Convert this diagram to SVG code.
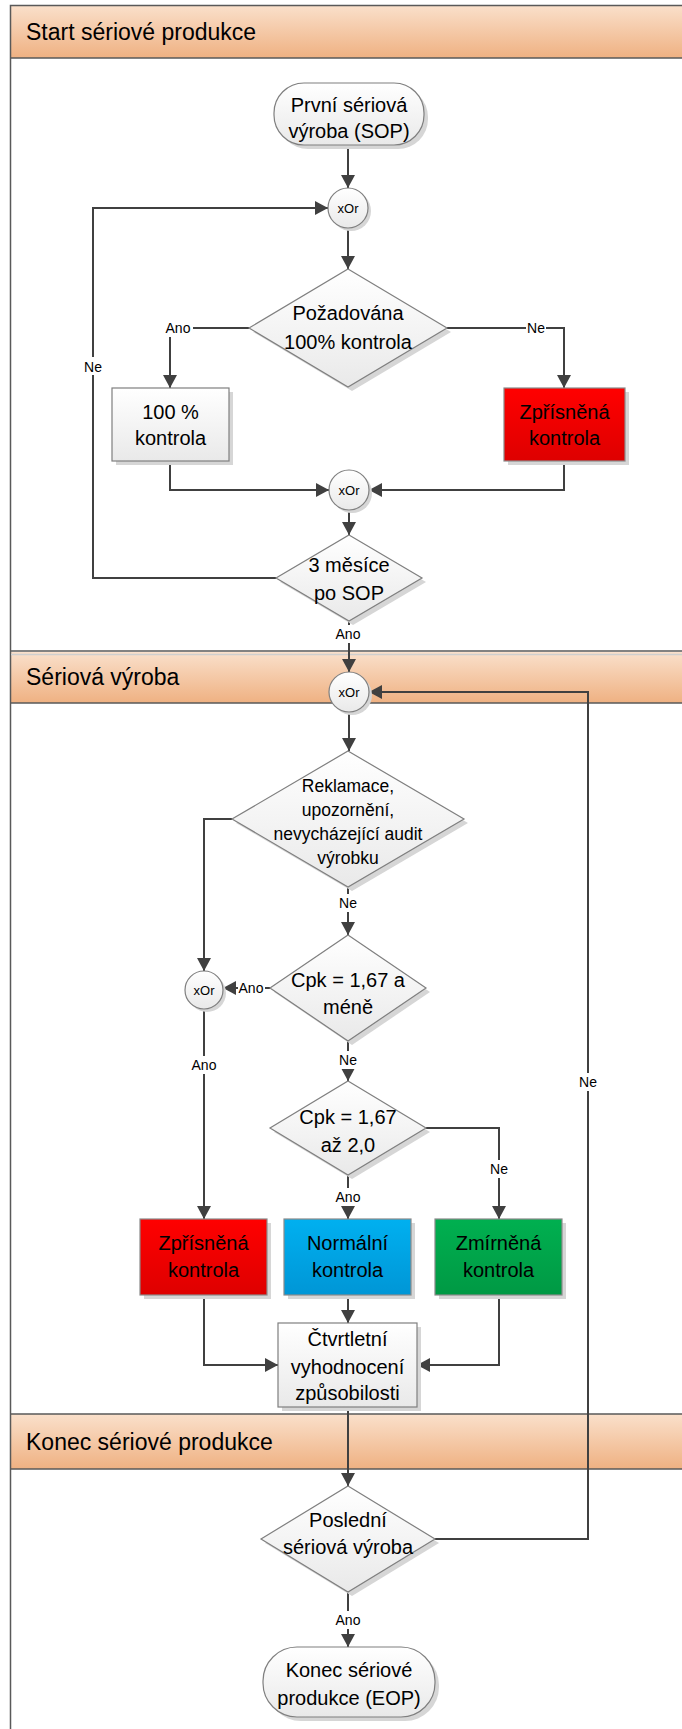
<svg xmlns="http://www.w3.org/2000/svg" width="682" height="1729" viewBox="0 0 682 1729">
  <defs>
    <linearGradient id="gHead" x1="0" y1="0" x2="0" y2="1">
      <stop offset="0" stop-color="#fae0cb"/>
      <stop offset="1" stop-color="#efb182"/>
    </linearGradient>
    <linearGradient id="gGray" x1="0" y1="0" x2="0" y2="1">
      <stop offset="0" stop-color="#ffffff"/>
      <stop offset="1" stop-color="#e9e9e9"/>
    </linearGradient>
    <linearGradient id="gRed" x1="0" y1="0" x2="0" y2="1">
      <stop offset="0" stop-color="#ff0000"/>
      <stop offset="1" stop-color="#de0000"/>
    </linearGradient>
    <linearGradient id="gBlue" x1="0" y1="0" x2="0" y2="1">
      <stop offset="0" stop-color="#00b0f0"/>
      <stop offset="1" stop-color="#0096d6"/>
    </linearGradient>
    <linearGradient id="gGreen" x1="0" y1="0" x2="0" y2="1">
      <stop offset="0" stop-color="#00b050"/>
      <stop offset="1" stop-color="#009944"/>
    </linearGradient>
    <marker id="arrow" markerUnits="userSpaceOnUse" markerWidth="14" markerHeight="14" refX="13" refY="7" orient="auto">
      <path d="M0,0 L13,7 L0,14 z" fill="#404040"/>
    </marker>
  </defs>
  <style>
    text { font-family: "Liberation Sans", Arial, sans-serif; fill: #000; text-anchor: middle; }
    .head { font-size: 23px; text-anchor: start; }
    .t { font-size: 20px; }
    .ts { font-size: 17.5px; }
    .x { font-size: 13px; }
    .lbl { font-size: 14px; }
    .lblbg { fill: #ffffff; }
    .band { fill: url(#gHead); }
    .rule { stroke: #595959; stroke-width: 1.5; fill: none; }
    .shadow { fill: #d6d6d6; }
    .gray { fill: url(#gGray); stroke: #7f7f7f; stroke-width: 1.2; }
    .red { fill: url(#gRed); stroke: #8a8a8a; stroke-width: 1.2; }
    .blue { fill: url(#gBlue); stroke: #8a8a8a; stroke-width: 1.2; }
    .green { fill: url(#gGreen); stroke: #8a8a8a; stroke-width: 1.2; }
    .conn path { fill: none; stroke: #404040; stroke-width: 2; marker-end: url(#arrow); }
  </style>

  <!-- swimlane frame and phase headers -->
  <g id="lanes">
    <rect x="10" y="5" width="690" height="53" class="band"/>
    <rect x="10" y="652" width="690" height="51" class="band"/>
    <rect x="10" y="1414" width="690" height="55" class="band"/>
    <path class="rule" d="M10.5,1729 V5.5 H700"/>
    <path class="rule" d="M10,58 H700 M10,651 H700 M10,703 H700 M10,1414 H700 M10,1469 H700"/>
    <path d="M11,654.5 H700" stroke="#cfcfcf" stroke-width="1.5"/>
    <text class="head" x="26" y="40">Start sériové produkce</text>
    <text class="head" x="26" y="685">Sériová výroba</text>
    <text class="head" x="26" y="1450">Konec sériové produkce</text>
  </g>

  <!-- connectors -->
  <g id="connectors" class="conn">
    <path d="M348,145 V188"/>
    <path d="M276,578 H93 V208 H328"/>
    <path d="M348,228 V269"/>
    <path d="M249,328 H170 V388"/>
    <path d="M447,328 H564 V388"/>
    <path d="M170,461 V490 H329"/>
    <path d="M564,461 V490 H369"/>
    <path d="M349,510 V535"/>
    <path d="M349,621 V672"/>
    <path d="M349,712 V751"/>
    <path d="M232,819 H204 V971"/>
    <path d="M348,887 V935"/>
    <path d="M270,988 H223"/>
    <path d="M204,1009 V1219"/>
    <path d="M348,1041 V1081"/>
    <path d="M426,1128 H499 V1219"/>
    <path d="M348,1175 V1219"/>
    <path d="M204,1295 V1365 H278"/>
    <path d="M348,1295 V1323"/>
    <path d="M499,1295 V1365 H417"/>
    <path d="M348,1407 V1486"/>
    <path d="M435,1539 H588 V692 H369"/>
    <path d="M348,1592 V1647"/>

    <!-- branch labels -->
    <rect class="lblbg" x="84" y="357" width="19" height="18"/>
    <text class="lbl" x="93" y="372">Ne</text>
    <rect class="lblbg" x="164" y="319" width="29" height="18"/>
    <text class="lbl" x="178" y="333">Ano</text>
    <rect class="lblbg" x="526" y="319" width="20" height="18"/>
    <text class="lbl" x="536" y="333">Ne</text>
    <rect class="lblbg" x="334" y="625" width="29" height="18"/>
    <text class="lbl" x="348" y="639">Ano</text>
    <rect class="lblbg" x="338" y="894" width="20" height="18"/>
    <text class="lbl" x="348" y="908">Ne</text>
    <rect class="lblbg" x="238" y="979" width="27" height="18"/>
    <text class="lbl" x="251" y="993">Ano</text>
    <rect class="lblbg" x="190" y="1056" width="29" height="18"/>
    <text class="lbl" x="204" y="1070">Ano</text>
    <rect class="lblbg" x="338" y="1051" width="20" height="18"/>
    <text class="lbl" x="348" y="1065">Ne</text>
    <rect class="lblbg" x="489" y="1160" width="20" height="18"/>
    <text class="lbl" x="499" y="1174">Ne</text>
    <rect class="lblbg" x="334" y="1188" width="29" height="18"/>
    <text class="lbl" x="348" y="1202">Ano</text>
    <rect class="lblbg" x="578" y="1073" width="20" height="18"/>
    <text class="lbl" x="588" y="1087">Ne</text>
    <rect class="lblbg" x="334" y="1611" width="29" height="18"/>
    <text class="lbl" x="348" y="1625">Ano</text>
  </g>

  <!-- start terminator -->
  <g id="sop">
    <rect class="shadow" x="278" y="87" width="150" height="62" rx="30"/>
    <rect class="gray" x="274" y="83" width="150" height="62" rx="30"/>
    <text class="t" x="349" y="112">První sériová</text>
    <text class="t" x="349" y="138">výroba (SOP)</text>
  </g>

  <g id="xor1">
    <circle class="shadow" cx="351" cy="211" r="20"/>
    <circle class="gray" cx="348" cy="208" r="20"/>
    <text class="x" x="348" y="212.5">xOr</text>
  </g>

  <g id="dec100">
    <path class="shadow" d="M352,273 L451,332 L352,391 L253,332 z"/>
    <path class="gray" d="M348,269 L447,328 L348,387 L249,328 z"/>
    <text class="t" x="348" y="320">Požadována</text>
    <text class="t" x="348" y="349">100% kontrola</text>
  </g>

  <g id="full100">
    <rect class="shadow" x="116" y="392" width="117" height="73"/>
    <rect class="gray" x="112" y="388" width="117" height="73"/>
    <text class="t" x="170.5" y="419">100 %</text>
    <text class="t" x="170.5" y="445">kontrola</text>
  </g>

  <g id="strict1">
    <rect class="shadow" x="508" y="392" width="121" height="73"/>
    <rect class="red" x="504" y="388" width="121" height="73"/>
    <text class="t" x="564.5" y="419">Zpřísněná</text>
    <text class="t" x="564.5" y="445">kontrola</text>
  </g>

  <g id="xor2">
    <circle class="shadow" cx="352" cy="493" r="20"/>
    <circle class="gray" cx="349" cy="490" r="20"/>
    <text class="x" x="349" y="494.5">xOr</text>
  </g>

  <g id="dec3m">
    <path class="shadow" d="M353,539 L426,582 L353,625 L280,582 z"/>
    <path class="gray" d="M349,535 L422,578 L349,621 L276,578 z"/>
    <text class="t" x="349" y="572">3 měsíce</text>
    <text class="t" x="349" y="600">po SOP</text>
  </g>

  <g id="xor3">
    <circle class="shadow" cx="352" cy="695" r="20"/>
    <circle class="gray" cx="349" cy="692" r="20"/>
    <text class="x" x="349" y="696.5">xOr</text>
  </g>

  <g id="decClaim">
    <path class="shadow" d="M352,755 L468,823 L352,891 L236,823 z"/>
    <path class="gray" d="M348,751 L464,819 L348,887 L232,819 z"/>
    <text class="ts" x="348" y="792">Reklamace,</text>
    <text class="ts" x="348" y="816">upozornění,</text>
    <text class="ts" x="348" y="840">nevycházející audit</text>
    <text class="ts" x="348" y="864">výrobku</text>
  </g>

  <g id="xor4">
    <circle class="shadow" cx="207" cy="993" r="19"/>
    <circle class="gray" cx="204" cy="990" r="19"/>
    <text class="x" x="204" y="994.5">xOr</text>
  </g>

  <g id="decCpkLow">
    <path class="shadow" d="M352,939 L430,992 L352,1045 L274,992 z"/>
    <path class="gray" d="M348,935 L426,988 L348,1041 L270,988 z"/>
    <text class="t" x="348" y="987">Cpk = 1,67 a</text>
    <text class="t" x="348" y="1014">méně</text>
  </g>

  <g id="decCpkMid">
    <path class="shadow" d="M352,1085 L430,1132 L352,1179 L274,1132 z"/>
    <path class="gray" d="M348,1081 L426,1128 L348,1175 L270,1128 z"/>
    <text class="t" x="348" y="1124">Cpk = 1,67</text>
    <text class="t" x="348" y="1152">až 2,0</text>
  </g>

  <g id="strict2">
    <rect class="shadow" x="144" y="1223" width="127" height="76"/>
    <rect class="red" x="140" y="1219" width="127" height="76"/>
    <text class="t" x="203.5" y="1250">Zpřísněná</text>
    <text class="t" x="203.5" y="1277">kontrola</text>
  </g>

  <g id="normal">
    <rect class="shadow" x="288" y="1223" width="127" height="76"/>
    <rect class="blue" x="284" y="1219" width="127" height="76"/>
    <text class="t" x="347.5" y="1250">Normální</text>
    <text class="t" x="347.5" y="1277">kontrola</text>
  </g>

  <g id="reduced">
    <rect class="shadow" x="439" y="1223" width="127" height="76"/>
    <rect class="green" x="435" y="1219" width="127" height="76"/>
    <text class="t" x="498.5" y="1250">Zmírněná</text>
    <text class="t" x="498.5" y="1277">kontrola</text>
  </g>

  <g id="quarterly">
    <rect class="shadow" x="282" y="1327" width="139" height="84"/>
    <rect class="gray" x="278" y="1323" width="139" height="84"/>
    <text class="t" x="347.5" y="1346">Čtvrtletní</text>
    <text class="t" x="347.5" y="1374">vyhodnocení</text>
    <text class="t" x="347.5" y="1400">způsobilosti</text>
  </g>

  <g id="decLast">
    <path class="shadow" d="M352,1490 L439,1543 L352,1596 L265,1543 z"/>
    <path class="gray" d="M348,1486 L435,1539 L348,1592 L261,1539 z"/>
    <text class="t" x="348" y="1527">Poslední</text>
    <text class="t" x="348" y="1554">sériová výroba</text>
  </g>

  <g id="eop">
    <rect class="shadow" x="267" y="1651" width="172" height="70" rx="34"/>
    <rect class="gray" x="263" y="1647" width="172" height="70" rx="34"/>
    <text class="t" x="349" y="1677">Konec sériové</text>
    <text class="t" x="349" y="1705">produkce (EOP)</text>
  </g>
</svg>
